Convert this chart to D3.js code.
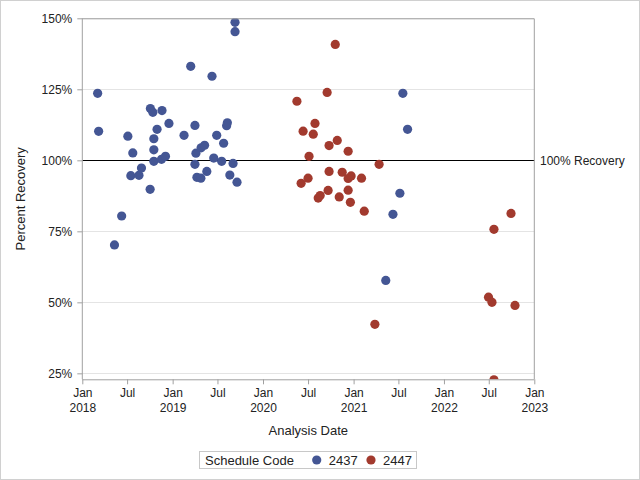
<!DOCTYPE html>
<html><head><meta charset="utf-8">
<script src="https://cdn.jsdelivr.net/npm/d3@7"></script>
<style>body{margin:0;background:#fff}svg{display:block;font-family:"Liberation Sans",Arial,sans-serif}</style>
</head><body><svg id="c" width="640" height="480"></svg>
<script>
const seriesNames = ["2437", "2447"];
const seriesColors = ["#445694", "#A23A2E"];
const dates2437 = ["2018-03-04","2018-03-08","2018-05-11","2018-06-09","2018-07-04","2018-07-16","2018-07-24","2018-08-18","2018-08-28","2018-10-02","2018-10-03","2018-10-13","2018-10-17","2018-10-17","2018-10-17","2018-10-30","2018-11-17","2018-11-19","2018-12-03","2018-12-17","2019-02-16","2019-03-15","2019-04-01","2019-04-05","2019-04-01","2019-04-09","2019-04-25","2019-04-26","2019-05-10","2019-05-19","2019-06-09","2019-06-16","2019-06-28","2019-07-18","2019-07-26","2019-08-07","2019-08-10","2019-08-20","2019-09-02","2019-09-10","2019-09-10","2019-09-18","2021-05-11","2021-06-09","2021-07-07","2021-07-19","2021-08-07"];
const values2437 = [123.6,110.2,70.2,80.4,108.5,94.6,102.6,94.7,97.3,89.8,118.2,116.9,107.6,103.7,99.65,110.9,100.35,117.5,101.4,113.0,108.8,133.1,112.3,102.5,98.6,94.0,93.7,104.4,105.3,96.1,129.6,100.8,108.8,99.65,106.0,112.2,113.2,94.8,98.9,148.6,145.3,92.3,57.7,81.0,88.4,123.6,110.9];
const dates2447 = ["2020-05-17","2020-06-11","2020-06-03","2020-07-05","2020-07-01","2020-07-22","2020-07-29","2020-08-11","2020-08-19","2020-09-16","2020-09-20","2020-09-24","2020-09-24","2020-10-19","2020-10-27","2020-11-04","2020-11-16","2020-12-10","2020-12-10","2020-12-10","2020-12-19","2020-12-22","2021-02-02","2021-02-13","2021-03-28","2021-04-14","2022-06-30","2022-07-14","2022-07-22","2022-07-22","2022-09-29","2022-10-15"];
const values2447 = [120.8,110.25,91.9,101.4,93.7,109.2,113.0,86.7,87.6,123.9,89.4,105.2,96.1,140.8,107.0,87.1,95.8,103.2,93.6,89.5,85.2,94.5,93.7,82.1,42.25,98.6,51.8,50.0,75.7,22.7,81.3,48.9];
const yTicks = [25, 50, 75, 100, 125, 150];
const refValue = 100;
const refLabel = "100% Recovery";
const xLabel = "Analysis Date";
const yLabel = "Percent Recovery";
const legendTitle = "Schedule Code";

const parse = d3.timeParse("%Y-%m-%d");
const series = [
  {name: seriesNames[0], color: seriesColors[0], pts: dates2437.map((d,i)=>({x:parse(d), y:values2437[i]}))},
  {name: seriesNames[1], color: seriesColors[1], pts: dates2447.map((d,i)=>({x:parse(d), y:values2447[i]}))}
];

const svg = d3.select("#c");
const L = 82.3, R = 534.3, T = 18.3, B = 379.3;
const x = d3.scaleTime().domain([new Date(2018,0,1), new Date(2023,0,1)]).range([L, R]);
const y = d3.scaleLinear().domain([22.9, 150]).range([B, T]);

svg.append("rect").attr("x",0.5).attr("y",0.5).attr("width",639).attr("height",479).attr("fill","#fff").attr("stroke","#d0d0d0");

// gridlines
svg.append("g").selectAll("line").data(yTicks.filter(v=>v!==refValue)).join("line")
  .attr("x1",L).attr("x2",R).attr("y1",d=>Math.round(y(d))+0.5).attr("y2",d=>Math.round(y(d))+0.5)
  .attr("stroke","#e4e4e4");

// clip
svg.append("clipPath").attr("id","pa").append("rect").attr("x",L).attr("y",T).attr("width",R-L).attr("height",B-T);

// reference line
svg.append("line").attr("x1",L).attr("x2",R).attr("y1",Math.round(y(refValue))+0.5).attr("y2",Math.round(y(refValue))+0.5).attr("stroke","#000");
svg.append("text").attr("x",540).attr("y",y(refValue)).attr("dy","0.35em").attr("font-size",12).attr("fill","#222").text(refLabel);

// points
const pg = svg.append("g").attr("clip-path","url(#pa)");
series.forEach(s=>{
  pg.append("g").selectAll("circle").data(s.pts).join("circle")
    .attr("cx",d=>x(d.x)).attr("cy",d=>y(d.y)).attr("r",4.6).attr("fill",s.color);
});

// frame
svg.append("path").attr("d",`M${L},${T+0.5}H${R}V${B}`).attr("fill","none").attr("stroke","#a0a0a0");

// y axis
const yAxis = svg.append("g").attr("transform",`translate(${L},0)`)
  .call(d3.axisLeft(y).tickValues(yTicks).tickFormat(d=>d+"%").tickSize(5).tickSizeOuter(0));
yAxis.select(".domain").attr("stroke","#a0a0a0").attr("d",`M0,${T}V${B}`);
yAxis.selectAll(".tick line").attr("stroke","#a0a0a0");
yAxis.selectAll(".tick text").attr("font-size",12).attr("fill","#222").attr("x",-10).attr("font-family",null);

// x axis
const xTicks = d3.timeMonth.every(6).range(new Date(2018,0,1), new Date(2023,0,2));
const xAxis = svg.append("g").attr("transform",`translate(0,${B})`)
  .call(d3.axisBottom(x).tickValues(xTicks).tickFormat("").tickSize(5).tickSizeOuter(0));
xAxis.select(".domain").attr("stroke","#a0a0a0").attr("d",`M${L},0.5H${R}`);
xAxis.selectAll(".tick line").attr("stroke","#a0a0a0");
xAxis.selectAll(".tick").each(function(d){
  const g = d3.select(this);
  const jan = d.getMonth()===0;
  g.append("text").attr("y",18).attr("text-anchor","middle").attr("font-size",12).attr("fill","#222").text(jan?"Jan":"Jul");
  if (jan) g.append("text").attr("y",33).attr("text-anchor","middle").attr("font-size",12).attr("fill","#222").text(d.getFullYear());
});

// axis labels
svg.append("text").attr("x",(L+R)/2).attr("y",435).attr("text-anchor","middle").attr("font-size",13).attr("fill","#222").text(xLabel);
svg.append("text").attr("transform",`translate(25,${(T+B)/2}) rotate(-90)`).attr("text-anchor","middle").attr("font-size",13).attr("fill","#222").text(yLabel);

// legend
const lg = svg.append("g");
lg.append("rect").attr("x",199.5).attr("y",451.5).attr("width",217).attr("height",17).attr("fill","none").attr("stroke","#c8c8c8");
lg.append("text").attr("x",205).attr("y",465).attr("font-size",13).attr("fill","#222").text(legendTitle);
const lx = [316.7, 371];
series.forEach((s,i)=>{
  lg.append("circle").attr("cx",lx[i]).attr("cy",460).attr("r",4.6).attr("fill",s.color);
  lg.append("text").attr("x",lx[i]+12).attr("y",465).attr("font-size",13).attr("fill","#222").text(s.name);
});
</script></body></html>
